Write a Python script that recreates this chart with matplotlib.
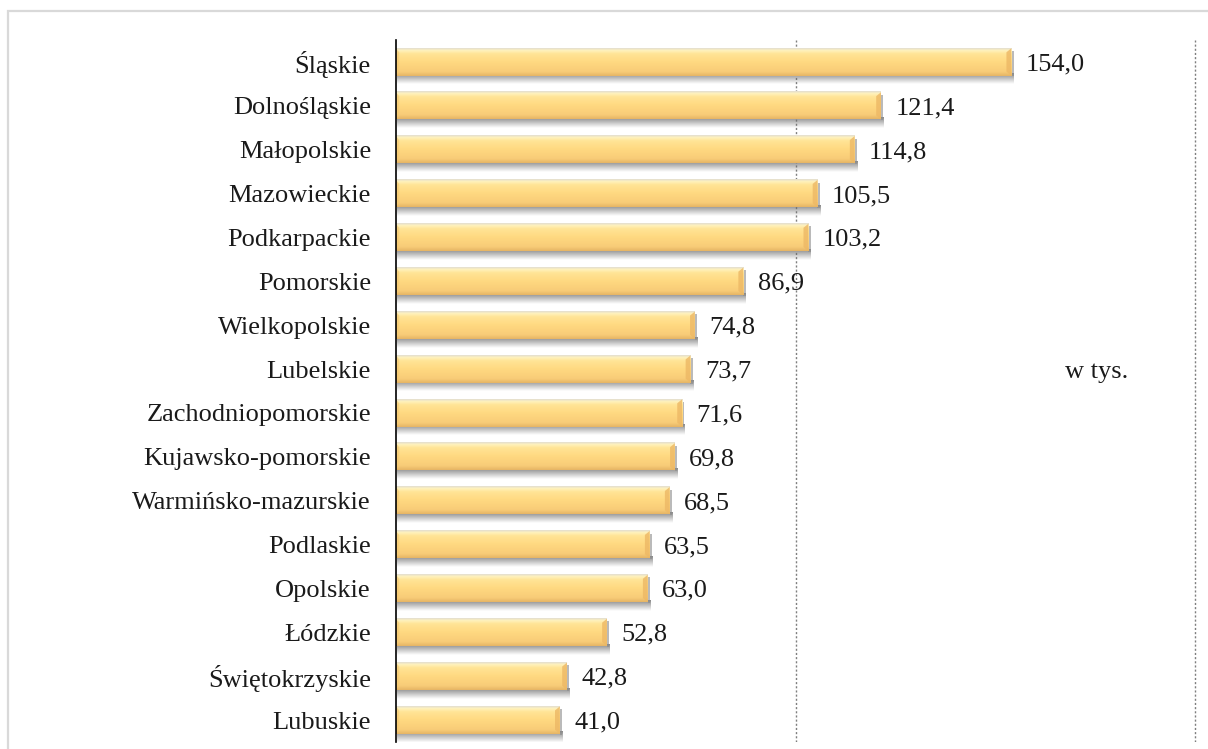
import numpy as np
import matplotlib.pyplot as plt
from matplotlib.colors import LinearSegmentedColormap
from matplotlib.patches import Rectangle, Polygon

# data (w tys.)
regions = ["Śląskie", "Dolnośląskie", "Małopolskie", "Mazowieckie", "Podkarpackie",
           "Pomorskie", "Wielkopolskie", "Lubelskie", "Zachodniopomorskie",
           "Kujawsko-pomorskie", "Warmińsko-mazurskie", "Podlaskie", "Opolskie",
           "Łódzkie", "Świętokrzyskie", "Lubuskie"]
values = [154.0, 121.4, 114.8, 105.5, 103.2, 86.9, 74.8, 73.7, 71.6,
          69.8, 68.5, 63.5, 63.0, 52.8, 42.8, 41.0]
value_labels = [f"{v:.1f}".replace(".", ",") for v in values]
unit_label = "w tys."

plt.rcParams['font.family'] = ['Liberation Serif', 'DejaVu Serif']
FS = 19

fig = plt.figure(figsize=(12.08, 7.49), dpi=100)
ax = fig.add_axes([396 / 1208, 7 / 749, (1197 - 396) / 1208, 702 / 749])

n = len(regions)
ypos = np.arange(n)[::-1]
h = 0.62

# vertical gradient for the bars (bottom -> top)
bar_cmap = LinearSegmentedColormap.from_list(
    "bar", [(0.0, "#E6B565"), (0.15, "#F8CC78"), (0.5, "#FFD981"),
            (0.8, "#FFE496"), (0.92, "#FFF2BC"), (1.0, "#E4DFD0")])
grad = np.linspace(0, 1, 64).reshape(-1, 1)

# shadow: grey fading downward
shadow = np.zeros((32, 1, 4))
shadow[..., :3] = 0.42
shadow[:, 0, 3] = np.linspace(0.0, 0.8, 32)

for y, v in zip(ypos, values):
    # shadow under and right of bar
    ax.imshow(shadow, extent=[0.3, v + 0.7, y - h / 2 - 0.2, y - h / 2 + 0.04],
              origin="lower", aspect="auto", zorder=1, interpolation="bilinear")
    ax.add_patch(Rectangle((v, y - h / 2 - 0.02), 0.6, h - 0.04,
                           facecolor="#8C8C8C", alpha=0.6, lw=0, zorder=1))
    # bar body
    ax.imshow(grad, extent=[0, v, y - h / 2, y + h / 2], origin="lower",
              cmap=bar_cmap, aspect="auto", zorder=2, interpolation="bilinear")
    # right bevel
    ax.add_patch(Polygon([(v - 1.2, y + h / 2 - 0.09), (v, y + h / 2),
                          (v, y - h / 2), (v - 1.2, y - h / 2 + 0.09)],
                         closed=True, facecolor="#EDB865", alpha=0.8, lw=0, zorder=3))
    # left bevel
    ax.add_patch(Polygon([(0, y + h / 2), (0.8, y + h / 2 - 0.09),
                          (0.8, y - h / 2 + 0.09), (0, y - h / 2)],
                         closed=True, facecolor="#F4C872", alpha=0.6, lw=0, zorder=3))

for y, v, lab in zip(ypos, values, value_labels):
    ax.text(v + 3.6, y, lab, va="center_baseline", ha="left", fontsize=FS, color="#1a1a1a")

ax.text(167.5, ypos[7], unit_label, va="center_baseline", ha="left", fontsize=FS, color="#1a1a1a")

ax.set_xlim(0, 200.5)
ax.set_ylim(-0.5, n - 0.5)
ax.set_yticks(ypos, regions, fontsize=FS, color="#1a1a1a")
for t in ax.get_yticklabels():
    t.set_verticalalignment("center_baseline")
ax.tick_params(axis="y", length=0, pad=18)
ax.set_xticks([100, 200])
ax.tick_params(axis="x", length=0, labelbottom=False)
ax.grid(axis="x", linestyle=(0, (1.5, 1.5)), color="#7f7f7f", linewidth=1.0)
ax.set_axisbelow(True)
for s in ["top", "right", "bottom"]:
    ax.spines[s].set_visible(False)
ax.spines["left"].set_color("#000000")
ax.spines["left"].set_linewidth(1.2)
ax.spines["left"].set_zorder(5)

# chart area border
fig.add_artist(Rectangle((8 / 1208, -0.1), 1.2, 1 - 11 / 749 + 0.1,
                         transform=fig.transFigure, fill=False,
                         edgecolor="#D9D9D9", linewidth=1.6))

fig.savefig("out.png", dpi=100)
